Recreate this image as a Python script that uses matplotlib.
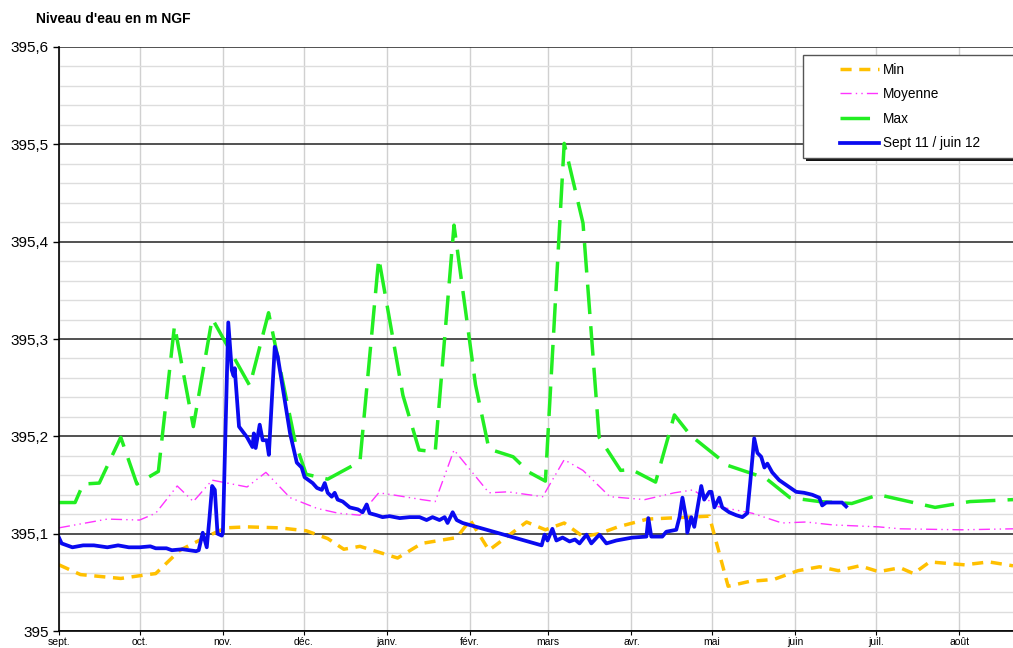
import matplotlib.pyplot as plt
from matplotlib.patches import Rectangle
from matplotlib.ticker import FuncFormatter, MultipleLocator

plt.rcParams['font.family'] = ['Liberation Sans', 'DejaVu Sans']

# jours depuis le 1er septembre, niveaux en m NGF
mois = ["sept.", "oct.", "nov.", "déc.", "janv.", "févr.", "mars", "avr.", "mai", "juin", "juil.", "août"]
debut_mois = [0, 30, 61, 91, 122, 153, 182, 213, 243, 274, 304, 335]

min_j = [0, 8, 23, 33, 36, 45, 55, 62, 70, 82, 92, 100, 106, 112, 126, 135, 148, 153, 160, 174,
         181, 188, 195, 201, 208, 219, 242, 249, 257, 266, 275, 283, 290, 298, 305, 313, 318, 324,
         337, 346, 355]
min_v = [395.068, 395.058, 395.054, 395.058, 395.059, 395.083, 395.097, 395.106, 395.107, 395.106,
         395.103, 395.095, 395.084, 395.087, 395.075, 395.090, 395.096, 395.114, 395.083, 395.112,
         395.104, 395.111, 395.097, 395.100, 395.107, 395.115, 395.118, 395.046, 395.051, 395.053,
         395.062, 395.066, 395.062, 395.067, 395.061, 395.065, 395.059, 395.071, 395.068, 395.071,
         395.067]

moy_j = [0, 18, 30, 36, 44, 50, 57, 70, 77, 86, 96, 104, 112, 119, 124, 135, 140, 147, 160, 167,
         180, 188, 195, 205, 218, 229, 236, 245, 258, 269, 278, 288, 305, 313, 336, 355]
moy_v = [395.106, 395.115, 395.114, 395.121, 395.149, 395.133, 395.155, 395.148, 395.163, 395.137,
         395.126, 395.121, 395.119, 395.142, 395.140, 395.135, 395.133, 395.186, 395.142, 395.143,
         395.138, 395.176, 395.165, 395.138, 395.135, 395.142, 395.145, 395.128, 395.121, 395.111,
         395.112, 395.109, 395.107, 395.105, 395.104, 395.105]

max_j = [0, 6, 9, 15, 23, 29, 37, 43, 50, 57, 71, 78, 88, 92, 100, 112, 119, 128, 134, 140, 147,
         155, 160, 169, 175, 181, 188, 195, 201, 209, 213, 222, 229, 235, 249, 263, 272, 283, 295,
         305, 326, 339, 355]
max_v = [395.132, 395.132, 395.151, 395.152, 395.199, 395.151, 395.164, 395.314, 395.210, 395.321,
         395.252, 395.327, 395.193, 395.161, 395.156, 395.174, 395.383, 395.242, 395.186, 395.184,
         395.417, 395.253, 395.187, 395.179, 395.163, 395.154, 395.501, 395.419, 395.199, 395.165,
         395.166, 395.153, 395.222, 395.201, 395.170, 395.157, 395.137, 395.133, 395.131, 395.140,
         395.127, 395.133, 395.135]

sept_j = [0, 1, 5, 9, 13, 18, 22, 26, 30, 34, 36, 40, 42, 46, 51, 52, 53.5, 55, 56, 57, 58, 59,
          60.6, 61, 63, 64.3, 65, 65.4, 67, 70, 72, 72.5, 73.2, 74.7, 75.8, 77.3, 78.1, 80.3, 81.4,
          84, 86, 88.5, 90.3, 91.4, 94.4, 96, 97.8, 98.9, 100, 101.5, 102.6, 103.7, 105.6, 108.2,
          111.2, 113, 114.5, 115.6, 118.2, 120.4, 123, 126.8, 130.5, 134.2, 136.8, 139, 141.6,
          143.5, 144.6, 146.5, 148, 150.2, 179.6, 180.7, 181.8, 183.6, 185.1, 187.4, 190, 192,
          193.7, 196.3, 198.1, 201.1, 203.7, 207.4, 213.4, 218.6, 219.3, 220.4, 224.5, 226, 229.7,
          230.9, 232, 233.5, 233.8, 235.3, 236.4, 239, 240.1, 242, 242.8, 243.9, 245.7, 246.8,
          249.4, 252, 254.3, 256.1, 257.2, 258.7, 259.9, 261.3, 262.5, 263.6, 265.4, 268, 271.7,
          274.3, 277.3, 280.3, 282.9, 284, 285.5, 289.2, 291.4, 292.9]
sept_v = [395.096, 395.090, 395.086, 395.088, 395.088, 395.086, 395.088, 395.086, 395.086, 395.087,
          395.085, 395.085, 395.083, 395.084, 395.082, 395.083, 395.101, 395.086, 395.116, 395.149,
          395.145, 395.100, 395.098, 395.101, 395.317, 395.268, 395.262, 395.270, 395.210, 395.199,
          395.189, 395.203, 395.188, 395.212, 395.196, 395.196, 395.181, 395.292, 395.282, 395.237,
          395.203, 395.173, 395.168, 395.158, 395.152, 395.147, 395.145, 395.152, 395.142, 395.138,
          395.142, 395.135, 395.133, 395.127, 395.125, 395.122, 395.130, 395.121, 395.119, 395.117,
          395.118, 395.116, 395.117, 395.117, 395.114, 395.117, 395.114, 395.117, 395.111, 395.122,
          395.114, 395.111, 395.088, 395.099, 395.093, 395.105, 395.093, 395.096, 395.092, 395.094,
          395.090, 395.099, 395.090, 395.099, 395.090, 395.093, 395.096, 395.097, 395.116, 395.097,
          395.097, 395.102, 395.104, 395.117, 395.137, 395.114, 395.101, 395.117, 395.107, 395.149,
          395.135, 395.143, 395.143, 395.127, 395.137, 395.127, 395.122, 395.119, 395.117, 395.121,
          395.152, 395.198, 395.183, 395.179, 395.168, 395.172, 395.163, 395.155, 395.148, 395.143,
          395.142, 395.140, 395.137, 395.129, 395.132, 395.132, 395.132, 395.128]

fig = plt.figure(figsize=(10.13, 6.48), dpi=100)
ax = fig.add_axes([0.0582, 0.0262, 0.9418, 0.9013])

ax.plot(min_j, min_v, color='#FFC000', lw=2.5, dashes=(3.2, 2.2), label="Min")
ax.plot(moy_j, moy_v, color='#FF33FF', lw=1, dashes=(8, 3, 1, 3, 1, 3), label="Moyenne")
ax.plot(max_j, max_v, color='#22EE22', lw=2.5, dashes=(8.5, 3.5), label="Max")
ax.plot(sept_j, sept_v, color='#0A0AF0', lw=2.7, label="Sept 11 / juin 12")

ax.set_xlim(0, 355)
ax.set_ylim(395, 395.6)
ax.set_xticks(debut_mois)
ax.set_xticklabels(mois, fontsize=7.5)
ax.yaxis.set_major_locator(MultipleLocator(0.1))
ax.yaxis.set_minor_locator(MultipleLocator(0.02))
ax.yaxis.set_major_formatter(FuncFormatter(lambda v, p: f"{v:.1f}".replace('.', ',').replace(',0', '')))
ax.tick_params(axis='y', which='major', labelsize=11, length=4, width=1)
ax.tick_params(axis='y', which='minor', length=0)
ax.tick_params(axis='x', length=3, pad=1)

ax.grid(True, axis='y', which='minor', color='#dddddd', lw=1)
ax.grid(True, axis='y', which='major', color='#222222', lw=1.1)
ax.grid(True, axis='x', which='major', color='#d0d0d0', lw=1)
ax.set_axisbelow(True)
for s in ['top', 'right']:
    ax.spines[s].set_visible(False)
ax.spines['left'].set_linewidth(1.2)
ax.spines['bottom'].set_linewidth(1.2)

fig.text(0.036, 0.965, "Niveau d'eau en m NGF", fontsize=10, fontweight='bold')

# cadre de légende avec ombre
cadre_x, cadre_y, cadre_l, cadre_h = 803 / 1013, 1 - 158 / 648, 0.215, 103 / 648
fig.patches.append(Rectangle((cadre_x + 0.003, cadre_y - 0.005), cadre_l, cadre_h,
                             transform=fig.transFigure, facecolor='#111111', edgecolor='none', zorder=4))
fig.patches.append(Rectangle((cadre_x, cadre_y), cadre_l, cadre_h, transform=fig.transFigure,
                             facecolor='white', edgecolor='#555555', lw=1, zorder=5))

leg = fig.legend(loc='upper left', bbox_to_anchor=(830 / 1013, 1 - 53 / 648), fontsize=9.8,
                 handlelength=2.9, handletextpad=0.3, frameon=False, borderpad=0.2,
                 labelspacing=0.78)
leg.set_zorder(6)

fig.savefig('out.png', dpi=100)
